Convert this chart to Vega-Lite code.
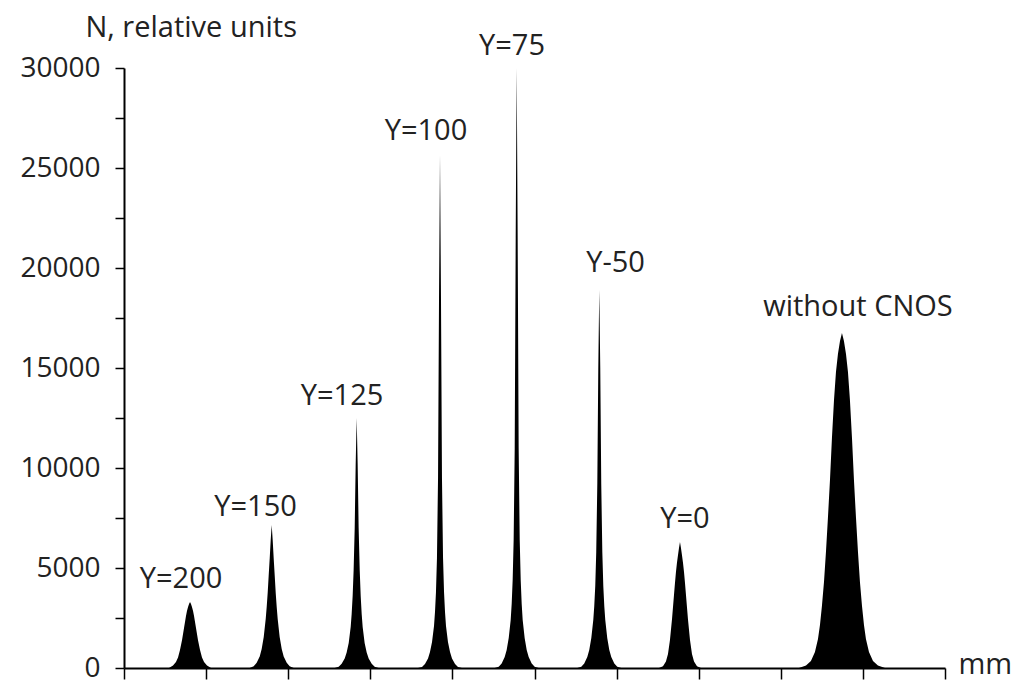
{
  "$schema": "https://vega.github.io/schema/vega-lite/v6.json",
  "width": 821,
  "height": 600,
  "autosize": {"type": "none"},
  "padding": {"left": 124, "top": 68, "right": 69, "bottom": 14},
  "background": "white",
  "config": {"view": {"stroke": null}, "font": "Open Sans"},
  "datasets": {
    "profile": [
      {"x": 0, "n": 0},
      {"x": 0.548, "n": 0}, {"x": 0.597, "n": 130}, {"x": 0.633, "n": 300}, {"x": 0.658, "n": 530}, {"x": 0.682, "n": 900}, {"x": 0.707, "n": 1400}, {"x": 0.719, "n": 1700}, {"x": 0.731, "n": 2000}, {"x": 0.743, "n": 2300}, {"x": 0.755, "n": 2600}, {"x": 0.767, "n": 2850}, {"x": 0.780, "n": 3050}, {"x": 0.792, "n": 3200}, {"x": 0.804, "n": 3300}, {"x": 0.816, "n": 3200}, {"x": 0.828, "n": 3050}, {"x": 0.841, "n": 2850}, {"x": 0.853, "n": 2600}, {"x": 0.865, "n": 2300}, {"x": 0.877, "n": 2000}, {"x": 0.889, "n": 1700}, {"x": 0.901, "n": 1400}, {"x": 0.926, "n": 900}, {"x": 0.950, "n": 530}, {"x": 0.975, "n": 300}, {"x": 1.011, "n": 130}, {"x": 1.060, "n": 0},
      {"x": 1.531, "n": 0}, {"x": 1.580, "n": 90}, {"x": 1.616, "n": 260}, {"x": 1.653, "n": 580}, {"x": 1.677, "n": 950}, {"x": 1.702, "n": 1550}, {"x": 1.726, "n": 2450}, {"x": 1.738, "n": 3050}, {"x": 1.750, "n": 3750}, {"x": 1.762, "n": 4600}, {"x": 1.775, "n": 5500}, {"x": 1.787, "n": 6400}, {"x": 1.799, "n": 7150}, {"x": 1.811, "n": 6400}, {"x": 1.823, "n": 5500}, {"x": 1.836, "n": 4600}, {"x": 1.848, "n": 3750}, {"x": 1.860, "n": 3050}, {"x": 1.872, "n": 2450}, {"x": 1.896, "n": 1550}, {"x": 1.921, "n": 950}, {"x": 1.945, "n": 580}, {"x": 1.982, "n": 260}, {"x": 2.018, "n": 90}, {"x": 2.067, "n": 0},
      {"x": 2.566, "n": 0}, {"x": 2.615, "n": 60}, {"x": 2.651, "n": 210}, {"x": 2.688, "n": 470}, {"x": 2.712, "n": 780}, {"x": 2.737, "n": 1250}, {"x": 2.761, "n": 2050}, {"x": 2.773, "n": 2700}, {"x": 2.785, "n": 3600}, {"x": 2.797, "n": 4900}, {"x": 2.810, "n": 7000}, {"x": 2.822, "n": 10200}, {"x": 2.834, "n": 12500}, {"x": 2.846, "n": 10200}, {"x": 2.858, "n": 7000}, {"x": 2.871, "n": 4900}, {"x": 2.883, "n": 3600}, {"x": 2.895, "n": 2700}, {"x": 2.907, "n": 2050}, {"x": 2.931, "n": 1250}, {"x": 2.956, "n": 780}, {"x": 2.980, "n": 470}, {"x": 3.017, "n": 210}, {"x": 3.053, "n": 60}, {"x": 3.102, "n": 0},
      {"x": 3.581, "n": 0}, {"x": 3.630, "n": 50}, {"x": 3.666, "n": 200}, {"x": 3.703, "n": 480}, {"x": 3.727, "n": 800}, {"x": 3.752, "n": 1300}, {"x": 3.776, "n": 2100}, {"x": 3.788, "n": 2800}, {"x": 3.800, "n": 3800}, {"x": 3.812, "n": 5500}, {"x": 3.825, "n": 9500}, {"x": 3.837, "n": 18500}, {"x": 3.849, "n": 25650}, {"x": 3.861, "n": 18500}, {"x": 3.873, "n": 9500}, {"x": 3.886, "n": 5500}, {"x": 3.898, "n": 3800}, {"x": 3.910, "n": 2800}, {"x": 3.922, "n": 2100}, {"x": 3.946, "n": 1300}, {"x": 3.971, "n": 800}, {"x": 3.995, "n": 480}, {"x": 4.032, "n": 200}, {"x": 4.068, "n": 50}, {"x": 4.117, "n": 0},
      {"x": 4.515, "n": 0}, {"x": 4.564, "n": 60}, {"x": 4.600, "n": 230}, {"x": 4.637, "n": 550}, {"x": 4.661, "n": 900}, {"x": 4.686, "n": 1500}, {"x": 4.710, "n": 2400}, {"x": 4.722, "n": 3200}, {"x": 4.734, "n": 4400}, {"x": 4.746, "n": 6400}, {"x": 4.759, "n": 11000}, {"x": 4.771, "n": 21500}, {"x": 4.783, "n": 30000}, {"x": 4.795, "n": 21500}, {"x": 4.807, "n": 11000}, {"x": 4.820, "n": 6400}, {"x": 4.832, "n": 4400}, {"x": 4.844, "n": 3200}, {"x": 4.856, "n": 2400}, {"x": 4.880, "n": 1500}, {"x": 4.905, "n": 900}, {"x": 4.929, "n": 550}, {"x": 4.966, "n": 230}, {"x": 5.002, "n": 60}, {"x": 5.051, "n": 0},
      {"x": 5.521, "n": 0}, {"x": 5.570, "n": 60}, {"x": 5.606, "n": 230}, {"x": 5.643, "n": 550}, {"x": 5.667, "n": 900}, {"x": 5.692, "n": 1500}, {"x": 5.716, "n": 2400}, {"x": 5.728, "n": 3100}, {"x": 5.740, "n": 4100}, {"x": 5.752, "n": 5800}, {"x": 5.765, "n": 9200}, {"x": 5.777, "n": 15000}, {"x": 5.789, "n": 18900}, {"x": 5.801, "n": 15000}, {"x": 5.813, "n": 9200}, {"x": 5.826, "n": 5800}, {"x": 5.838, "n": 4100}, {"x": 5.850, "n": 3100}, {"x": 5.862, "n": 2400}, {"x": 5.886, "n": 1500}, {"x": 5.911, "n": 900}, {"x": 5.935, "n": 550}, {"x": 5.972, "n": 230}, {"x": 6.008, "n": 60}, {"x": 6.057, "n": 0},
      {"x": 6.516, "n": 0}, {"x": 6.565, "n": 90}, {"x": 6.601, "n": 320}, {"x": 6.626, "n": 700}, {"x": 6.650, "n": 1400}, {"x": 6.675, "n": 2450}, {"x": 6.687, "n": 3050}, {"x": 6.699, "n": 3650}, {"x": 6.711, "n": 4250}, {"x": 6.723, "n": 4800}, {"x": 6.735, "n": 5250}, {"x": 6.748, "n": 5650}, {"x": 6.760, "n": 6000}, {"x": 6.772, "n": 6300}, {"x": 6.784, "n": 6000}, {"x": 6.796, "n": 5650}, {"x": 6.809, "n": 5250}, {"x": 6.821, "n": 4800}, {"x": 6.833, "n": 4250}, {"x": 6.845, "n": 3650}, {"x": 6.857, "n": 3050}, {"x": 6.869, "n": 2450}, {"x": 6.894, "n": 1400}, {"x": 6.918, "n": 700}, {"x": 6.943, "n": 320}, {"x": 6.979, "n": 90}, {"x": 7.028, "n": 0},
      {"x": 8.221, "n": 0}, {"x": 8.307, "n": 120}, {"x": 8.367, "n": 350}, {"x": 8.416, "n": 800}, {"x": 8.453, "n": 1450}, {"x": 8.477, "n": 2150}, {"x": 8.501, "n": 3100}, {"x": 8.526, "n": 4300}, {"x": 8.550, "n": 5800}, {"x": 8.574, "n": 7500}, {"x": 8.599, "n": 9400}, {"x": 8.623, "n": 11500}, {"x": 8.648, "n": 13400}, {"x": 8.672, "n": 14800}, {"x": 8.696, "n": 15700}, {"x": 8.721, "n": 16350}, {"x": 8.745, "n": 16750}, {"x": 8.769, "n": 16350}, {"x": 8.794, "n": 15700}, {"x": 8.818, "n": 14800}, {"x": 8.842, "n": 13400}, {"x": 8.867, "n": 11500}, {"x": 8.891, "n": 9400}, {"x": 8.916, "n": 7500}, {"x": 8.940, "n": 5800}, {"x": 8.964, "n": 4300}, {"x": 8.989, "n": 3100}, {"x": 9.013, "n": 2150}, {"x": 9.037, "n": 1450}, {"x": 9.074, "n": 800}, {"x": 9.123, "n": 350}, {"x": 9.183, "n": 120}, {"x": 9.269, "n": 0},
      {"x": 10, "n": 0}
    ],
    "labels": [
      {"label": "Y=200", "x": 0.695, "n": 4450},
      {"label": "Y=150", "x": 1.602, "n": 8050},
      {"label": "Y=125", "x": 2.656, "n": 13600},
      {"label": "Y=100", "x": 3.678, "n": 26850},
      {"label": "Y=75", "x": 4.726, "n": 31100},
      {"label": "Y-50", "x": 5.987, "n": 20250},
      {"label": "Y=0", "x": 6.833, "n": 7450},
      {"label": "without CNOS", "x": 8.940, "n": 18050}
    ]
  },
  "layer": [
    {
      "data": {"name": "profile"},
      "mark": {"type": "area", "color": "black", "interpolate": "linear"},
      "encoding": {
        "x": {
          "field": "x", "type": "quantitative",
          "scale": {"domain": [0, 10], "nice": false, "zero": false},
          "axis": {
            "values": [0, 1, 2, 3, 4, 5, 6, 7, 8, 9, 10],
            "labels": false, "grid": false,
            "tickSize": 11, "tickColor": "black", "tickWidth": 1.5,
            "domainColor": "black", "domainWidth": 2,
            "title": "mm", "titleX": 834, "titleY": 5,
            "titleAlign": "left", "titleBaseline": "alphabetic",
            "titleFontSize": 29, "titleFontWeight": "normal", "titleFont": "Open Sans", "titleColor": "#222"
          }
        },
        "y": {
          "field": "n", "type": "quantitative",
          "scale": {"domain": [0, 30000], "nice": false},
          "axis": {
            "values": [0, 2500, 5000, 7500, 10000, 12500, 15000, 17500, 20000, 22500, 25000, 27500, 30000],
            "labelExpr": "datum.value % 5000 === 0 ? datum.label : ''",
            "format": "d", "grid": false,
            "tickSize": 9, "tickColor": "black", "tickWidth": 1.5,
            "domainColor": "black", "domainWidth": 2,
            "labelPadding": 15, "labelFontSize": 28, "labelColor": "#222", "labelFont": "Open Sans",
            "title": "N, relative units", "titleAngle": 0, "titleX": -39, "titleY": -32,
            "titleAlign": "left", "titleBaseline": "alphabetic",
            "titleFontSize": 29, "titleFontWeight": "normal", "titleFont": "Open Sans", "titleColor": "#222"
          }
        }
      }
    },
    {
      "data": {"name": "labels"},
      "mark": {"type": "text", "fontSize": 29, "font": "Open Sans", "color": "#222", "baseline": "middle", "align": "center"},
      "encoding": {
        "x": {"field": "x", "type": "quantitative"},
        "y": {"field": "n", "type": "quantitative"},
        "text": {"field": "label"}
      }
    }
  ]
}
